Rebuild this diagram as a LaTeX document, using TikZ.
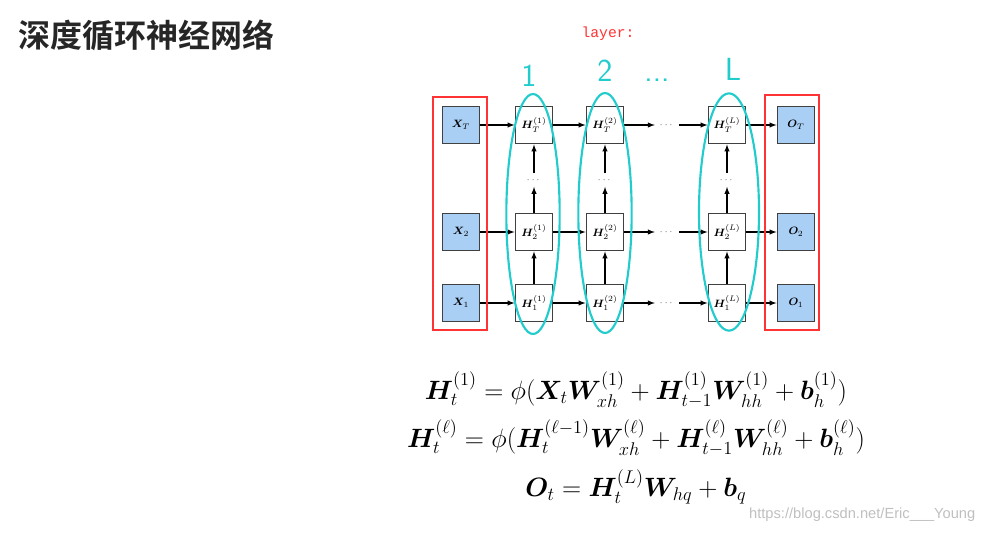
\documentclass[tikz,border=0pt]{standalone}
\usepackage{amsmath,bm}
\usepackage{fontspec}
\newfontfamily\cjk{Noto Sans CJK SC}[BoldFont={Noto Sans CJK SC Bold}]
\newfontfamily\monof{Liberation Mono}
\newfontfamily\wmf{Liberation Sans}
\definecolor{tq}{HTML}{22CCCC}
\definecolor{bf}{HTML}{A9CFF5}
\begin{document}
\begin{tikzpicture}[x=0.75pt,y=-0.75pt,
 bx/.style={draw=black!75,line width=1.2pt,minimum size=28pt,inner sep=0pt,font=\footnotesize},
 xb/.style={bx,fill=bf},
 hb/.style={bx,fill=white},
 ar/.style={-latex,line width=0.8pt},
 red/.style={draw=red!80,line width=1.5pt},
 cy/.style={draw=tq,line width=1.6pt},
 eq/.style={font=\fontsize{17.28}{17.28}\selectfont},
 hw/.style={text=tq,font=\sffamily\fontsize{24}{24}\selectfont}]
\useasboundingbox (0,0) rectangle (988,533);
\node[anchor=west,font=\cjk\bfseries\fontsize{24}{24}\selectfont,text=black!85] (title) at (14,35) {深度循环神经网络};
\node[text=red!80,font=\monof\fontsize{11}{11}\selectfont] (lay) at (608,34) {layer:};
\node[hw] (n1) at (529,76) {1};
\node[hw] (n2) at (605,71) {2};
\node[hw] (nd) at (657,80) {...};
\node[hw] (nL) at (733,69) {L};
% boxes
\foreach \r/\y/\s in {T/125/T,2/232/2,1/303/1}{
 \node[xb] (X\r) at (461,\y) {$\bm X_{\s}$};
 \node[hb] (Ha\r) at (534,\y) {$\bm H_{\s}^{(1)}$};
 \node[hb] (Hb\r) at (605,\y) {$\bm H_{\s}^{(2)}$};
 \node[hb] (Hc\r) at (727,\y) {$\bm H_{\s}^{(L)}$};
 \node[xb] (O\r) at (796,\y) {$\bm O_{\s}$};
 \node[font=\scriptsize,text=black!60] (d\r) at (667,\y) {$\cdots$};
 \draw[ar] (X\r) -- (Ha\r);
 \draw[ar] (Ha\r) -- (Hb\r);
 \draw[ar] (Hb\r) -- (d\r);
 \draw[ar] (d\r) -- (Hc\r);
 \draw[ar] (Hc\r) -- (O\r);
}
\foreach \c/\x in {a/534,b/605,c/727}{
 \node[font=\scriptsize,text=black!60] (v\c) at (\x,180) {$\cdots$};
 \draw[ar] (H\c1) -- (H\c2);
 \draw[ar] (H\c2) -- (v\c);
 \draw[ar] (v\c) -- (H\c T);
}
\draw[red] (433,97) rectangle (487,330);
\draw[red] (765,95) rectangle (819,330);
\draw[cy] (533,214) ellipse [x radius=20pt,y radius=90pt];
\draw[cy] (605,213) ellipse [x radius=20pt,y radius=90pt];
\draw[cy] (729,212) ellipse [x radius=22.5pt,y radius=89pt];
\node[eq] (e1) at (636,390) {\scalebox{1.15}{$\bm H_t^{(1)} = \phi(\bm X_t \bm W_{xh}^{(1)} + \bm H_{t-1}^{(1)} \bm W_{hh}^{(1)} + \bm b_h^{(1)})$}};
\node[eq] (e2) at (636,438) {\scalebox{1.15}{$\bm H_t^{(\ell)} = \phi(\bm H_t^{(\ell-1)} \bm W_{xh}^{(\ell)} + \bm H_{t-1}^{(\ell)} \bm W_{hh}^{(\ell)} + \bm b_h^{(\ell)})$}};
\node[eq] (e3) at (636,487) {\scalebox{1.15}{$\bm O_t = \bm H_t^{(L)} \bm W_{hq} + \bm b_q$}};
\node[anchor=east,text=black!25,font=\wmf\fontsize{11}{11}\selectfont] (wm) at (980,515) {https://blog.csdn.net/Eric\_\_\_Young};
\end{tikzpicture}
\end{document}
